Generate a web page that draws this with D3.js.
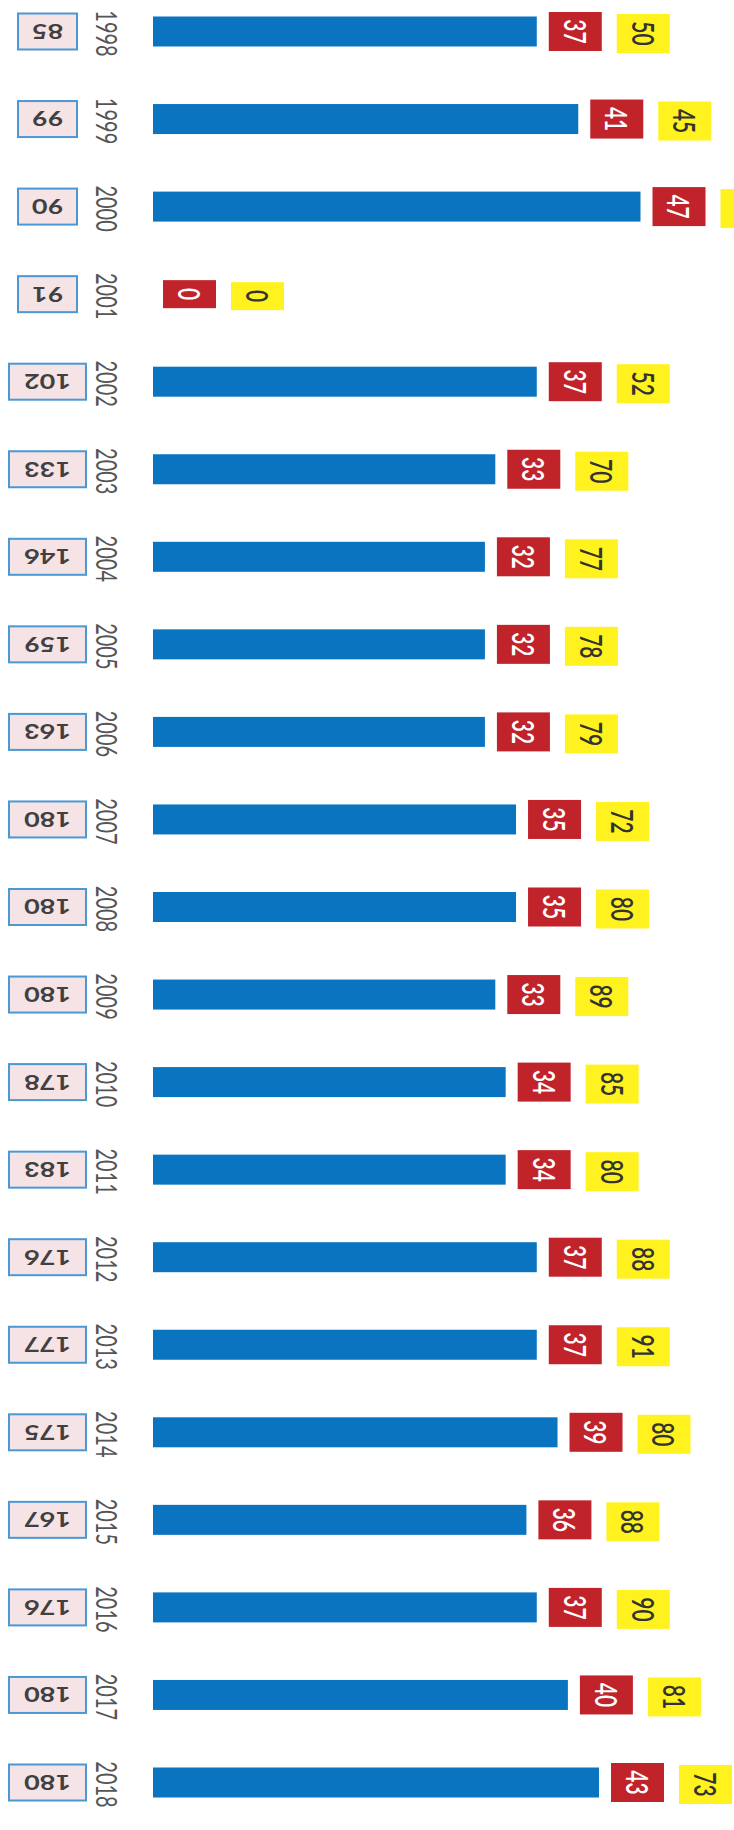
<!DOCTYPE html>
<html>
<head>
<meta charset="utf-8">
<script src="https://cdn.jsdelivr.net/npm/d3@7"></script>
<style>
  body { margin: 0; background: #fff; }
  text { font-family: Lato, "Open Sans", sans-serif; }
</style>
</head>
<body>
<div id="chart"></div>
<script>
const years = [1998, 1999, 2000, 2001, 2002, 2003, 2004, 2005, 2006, 2007, 2008,
    2009, 2010, 2011, 2012, 2013, 2014, 2015, 2016, 2017, 2018]
const redValues = [37, 41, 47, 0, 37, 33, 32, 32, 32, 35, 35, 33, 34, 34, 37, 37, 39, 36, 37, 40, 43]
const yellowValues = [50, 45, 55, 0, 52, 70, 77, 78, 79, 72, 80, 89, 85, 80, 88, 91, 80, 88, 90, 81, 73]
const boxValues = [85, 99, 90, 91, 102, 133, 146, 159, 163, 180, 180, 180, 178, 183, 176, 177, 175, 167, 176, 180, 180]

const svgWidth = 734
const svgHeight = 1830
const stretch = 1.45 // picture is wider than tall, glyphs too

const data = years.map((y, i) => ({
    year: y,
    red: redValues[i],
    yellow: yellowValues[i],
    box: boxValues[i]
}))

let svg = d3.select('#chart')
    .append('svg')
    .attr('width', svgWidth)
    .attr('height', svgHeight)

let yScale = d3.scalePoint()
    .domain(years)
    .range([31.5, 1782.5])

let xScale = d3.scaleLinear()
    .domain([0, 47])
    .range([153, 640.5])

const barHeight = 30
const labelW = 53
const labelGap = 12
const digits = v => String(v).length
const labelH = v => 17 + 11 * digits(v)

// blue bars
svg.append("g")
    .selectAll("rect")
    .data(data.filter(d => d.red > 0))
    .join("rect")
    .attr("x", xScale(0))
    .attr("y", d => yScale(d.year) - barHeight / 2)
    .attr("width", d => xScale(d.red) - xScale(0))
    .attr("height", barHeight)
    .attr("fill", "#0a74c0")

// red value boxes
let redX = d => xScale(d.red) + (d.red > 0 ? labelGap : 10)
let redGroup = svg.append("g")
redGroup.selectAll("rect")
    .data(data)
    .join("rect")
    .attr("x", redX)
    .attr("y", d => yScale(d.year) - labelH(d.red) / 2)
    .attr("width", labelW)
    .attr("height", d => labelH(d.red))
    .attr("fill", "#c1232b")

redGroup.selectAll("text")
    .data(data)
    .join("text")
    .attr("transform", d => `translate(${redX(d) + labelW / 2},${yScale(d.year)}) scale(${stretch},1) rotate(90)`)
    .attr("text-anchor", "middle")
    .attr("dominant-baseline", "central")
    .attr("font-size", 21)
    .attr("font-weight", 600)
    .attr("fill", "white")
    .text(d => d.red)

// yellow value boxes
let yellowX = d => redX(d) + labelW + 15
let yellowGroup = svg.append("g")
yellowGroup.selectAll("rect")
    .data(data)
    .join("rect")
    .attr("x", yellowX)
    .attr("y", d => yScale(d.year) - labelH(d.yellow) / 2 + 2)
    .attr("width", labelW)
    .attr("height", d => labelH(d.yellow))
    .attr("fill", "#fff21e")

yellowGroup.selectAll("text")
    .data(data)
    .join("text")
    .attr("transform", d => `translate(${yellowX(d) + labelW / 2},${yScale(d.year) + 2}) scale(${stretch},1) rotate(90)`)
    .attr("text-anchor", "middle")
    .attr("dominant-baseline", "central")
    .attr("font-size", 21)
    .attr("font-weight", 600)
    .attr("fill", "#333")
    .text(d => d.yellow)

// year labels
svg.append("g")
    .selectAll("text")
    .data(data)
    .join("text")
    .attr("transform", d => `translate(107.5,${yScale(d.year) + 2}) scale(${stretch},1) rotate(90)`)
    .attr("text-anchor", "middle")
    .attr("dominant-baseline", "central")
    .attr("font-size", 20)
    .attr("fill", "#555")
    .text(d => d.year)

// pink boxes, upside down
const boxCx = 47.5
const boxW = v => 23 + 18 * digits(v)
let boxGroup = svg.append("g")
boxGroup.selectAll("rect")
    .data(data)
    .join("rect")
    .attr("x", d => boxCx - boxW(d.box) / 2)
    .attr("y", d => yScale(d.year) - 18)
    .attr("width", d => boxW(d.box))
    .attr("height", 36)
    .attr("fill", "#f6e3e5")
    .attr("stroke", "#4a98d6")
    .attr("stroke-width", 2)

boxGroup.selectAll("text")
    .data(data)
    .join("text")
    .attr("transform", d => `translate(${boxCx},${yScale(d.year)}) scale(1.35,1) rotate(180)`)
    .attr("text-anchor", "middle")
    .attr("dominant-baseline", "central")
    .attr("font-size", 20)
    .attr("font-weight", "bold")
    .attr("fill", "#404040")
    .text(d => d.box)
</script>
</body>
</html>
